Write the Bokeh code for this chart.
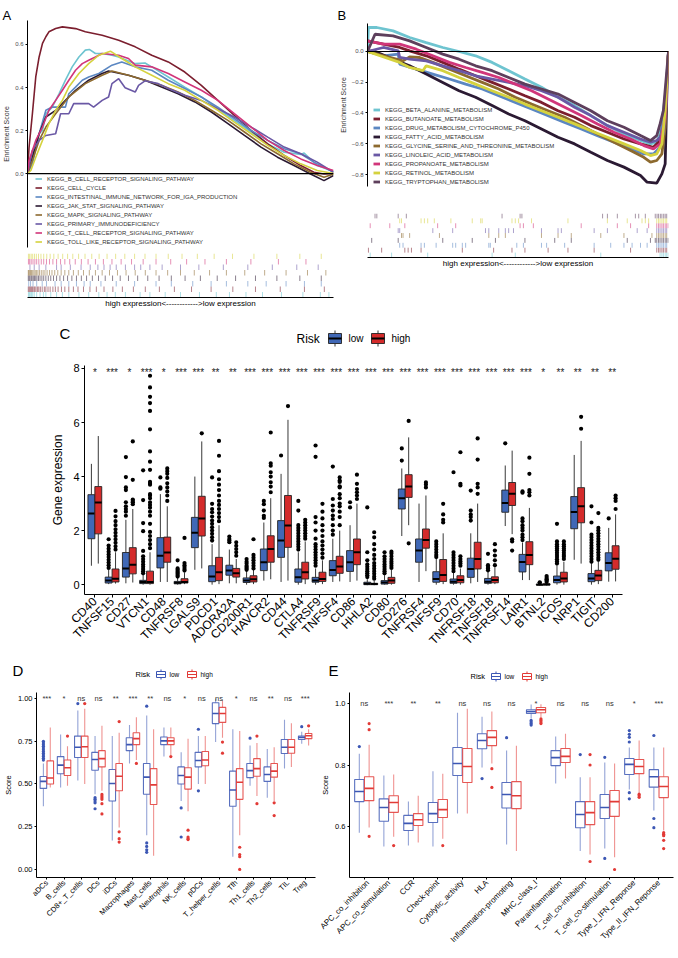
import numpy as np
from bokeh.plotting import figure
from bokeh.models import Range1d, Legend, LegendItem, FixedTicker, Span
from bokeh.layouts import column, row
from bokeh.embed import file_html
from bokeh.resources import INLINE
from bokeh.core.properties import value

FONT = "Liberation Sans"

# ---------------------------------------------------------------- panel A data
# running enrichment score along the ranked gene list (rank scaled to 0-1000)
a_sets = ["KEGG_B_CELL_RECEPTOR_SIGNALING_PATHWAY", "KEGG_CELL_CYCLE",
          "KEGG_INTESTINAL_IMMUNE_NETWORK_FOR_IGA_PRODUCTION", "KEGG_JAK_STAT_SIGNALING_PATHWAY",
          "KEGG_MAPK_SIGNALING_PATHWAY", "KEGG_PRIMARY_IMMUNODEFICIENCY",
          "KEGG_T_CELL_RECEPTOR_SIGNALING_PATHWAY", "KEGG_TOLL_LIKE_RECEPTOR_SIGNALING_PATHWAY"]
a_colors = ["#6EC4D0", "#7B1E2E", "#5B87C2", "#2B1A33", "#8D6A2F", "#6A58A5", "#D1357A", "#D5D23E"]
a_rank = [
    [0, 16, 38, 49, 60, 81, 103, 124, 146, 168, 189, 202, 222, 244, 276, 298, 352, 384, 406, 460, 514, 568, 622, 676, 731, 785, 839, 893, 904, 947, 1000],
    [0, 5, 16, 27, 38, 49, 60, 70, 92, 114, 157, 189, 244, 298, 352, 406, 460, 514, 568, 622, 676, 731, 785, 839, 893, 936, 969, 1000],
    [0, 16, 38, 60, 81, 124, 135, 157, 179, 200, 233, 276, 308, 352, 406, 460, 514, 568, 622, 676, 731, 785, 839, 893, 936, 1000],
    [0, 16, 38, 60, 92, 124, 157, 200, 244, 265, 330, 384, 438, 492, 547, 601, 655, 709, 763, 817, 871, 925, 969, 1000],
    [0, 16, 38, 60, 92, 135, 189, 244, 276, 330, 384, 438, 492, 547, 601, 655, 709, 763, 817, 871, 925, 969, 1000],
    [0, 16, 38, 60, 92, 108, 135, 151, 200, 216, 244, 265, 276, 298, 319, 352, 363, 384, 427, 460, 514, 568, 622, 676, 731, 785, 839, 893, 947, 1000],
    [0, 5, 27, 49, 70, 92, 114, 135, 157, 179, 200, 222, 244, 298, 330, 352, 406, 460, 514, 568, 622, 676, 731, 785, 839, 893, 947, 1000],
    [0, 11, 27, 49, 70, 92, 114, 135, 168, 200, 233, 271, 308, 352, 406, 460, 514, 568, 622, 676, 731, 785, 839, 893, 947, 1000],
]
a_es = [
    [0, 0.092, 0.185, 0.2, 0.278, 0.309, 0.371, 0.434, 0.496, 0.542, 0.574, 0.577, 0.558, 0.558, 0.55, 0.542, 0.511, 0.514, 0.496, 0.449, 0.402, 0.356, 0.301, 0.247, 0.193, 0.138, 0.099, 0.089, 0.095, 0.037, 0.01],
    [0, 0.12, 0.278, 0.449, 0.542, 0.605, 0.636, 0.659, 0.674, 0.682, 0.674, 0.659, 0.643, 0.62, 0.589, 0.55, 0.519, 0.472, 0.41, 0.34, 0.27, 0.2, 0.138, 0.084, 0.037, 0.006, -0.002, 0.0],
    [0, 0.045, 0.185, 0.294, 0.309, 0.309, 0.371, 0.402, 0.434, 0.449, 0.465, 0.504, 0.519, 0.496, 0.48, 0.434, 0.395, 0.356, 0.309, 0.255, 0.2, 0.154, 0.115, 0.092, 0.053, 0.006],
    [0, 0.076, 0.185, 0.263, 0.294, 0.34, 0.387, 0.434, 0.465, 0.477, 0.457, 0.434, 0.402, 0.371, 0.333, 0.286, 0.232, 0.177, 0.123, 0.076, 0.037, -0.002, -0.033, -0.009],
    [0, 0.061, 0.154, 0.216, 0.278, 0.356, 0.418, 0.457, 0.477, 0.457, 0.434, 0.41, 0.379, 0.34, 0.294, 0.247, 0.193, 0.138, 0.092, 0.045, 0.006, -0.017, -0.002],
    [0, 0.107, 0.154, 0.177, 0.185, 0.278, 0.278, 0.325, 0.325, 0.309, 0.34, 0.356, 0.418, 0.441, 0.399, 0.379, 0.41, 0.431, 0.418, 0.395, 0.364, 0.34, 0.301, 0.263, 0.216, 0.169, 0.123, 0.092, 0.053, 0.006],
    [0, 0.061, 0.154, 0.216, 0.294, 0.34, 0.387, 0.434, 0.48, 0.511, 0.527, 0.542, 0.558, 0.55, 0.535, 0.504, 0.496, 0.465, 0.426, 0.387, 0.34, 0.278, 0.216, 0.154, 0.107, 0.068, 0.037, 0.014],
    [0, 0.014, 0.076, 0.154, 0.232, 0.294, 0.34, 0.402, 0.465, 0.511, 0.55, 0.569, 0.535, 0.496, 0.457, 0.418, 0.387, 0.34, 0.294, 0.239, 0.185, 0.131, 0.084, 0.045, 0.014, 0.0],
]
a_hits = [
    [3, 6, 9, 13, 17, 22, 30, 41, 52, 60, 76, 95, 114, 135, 168, 200, 233, 260, 287, 320, 368, 400, 450, 500, 562, 617, 660, 714, 768, 830, 900, 957, 985],
    [2, 5, 8, 11, 14, 17, 21, 24, 28, 33, 37, 42, 48, 55, 60, 67, 74, 83, 91, 100, 111, 122, 135, 150, 165, 183, 204, 225, 250, 279, 310, 346, 385, 431, 480, 536, 600, 671, 745, 826, 905, 970],
    [4, 10, 18, 30, 48, 62, 90, 110, 135, 160, 185, 205, 240, 290, 350, 420, 470, 540, 600, 650, 720, 780, 845, 905, 960],
    [2, 5, 8, 12, 15, 19, 23, 27, 31, 36, 41, 47, 53, 60, 68, 76, 85, 95, 106, 118, 131, 145, 160, 176, 193, 212, 232, 254, 278, 303, 330, 360, 393, 430, 470, 515, 565, 620, 680, 745, 815, 890, 960],
    [2, 4, 7, 10, 13, 17, 21, 25, 29, 34, 39, 45, 51, 57, 64, 72, 80, 89, 99, 110, 122, 135, 150, 166, 183, 202, 222, 244, 268, 294, 322, 352, 385, 420, 458, 500, 545, 595, 650, 710, 775, 845, 915, 975],
    [8, 22, 38, 60, 95, 110, 140, 175, 205, 230, 250, 270, 290, 320, 350, 370, 400, 440, 500, 560, 640, 720, 800, 880, 950],
    [3, 7, 12, 18, 24, 30, 37, 45, 53, 62, 72, 83, 95, 108, 122, 138, 156, 176, 198, 222, 248, 276, 306, 340, 378, 420, 468, 520, 580, 650, 730, 820, 910],
    [3, 7, 12, 17, 23, 29, 36, 44, 53, 63, 74, 86, 100, 115, 131, 148, 167, 188, 210, 234, 260, 288, 318, 350, 384, 420, 460, 505, 555, 610, 670, 740, 815, 890, 960],
]

# ---------------------------------------------------------------- panel B data
b_sets = ["KEGG_BETA_ALANINE_METABOLISM", "KEGG_BUTANOATE_METABOLISM",
          "KEGG_DRUG_METABOLISM_CYTOCHROME_P450", "KEGG_FATTY_ACID_METABOLISM",
          "KEGG_GLYCINE_SERINE_AND_THREONINE_METABOLISM", "KEGG_LINOLEIC_ACID_METABOLISM",
          "KEGG_PROPANOATE_METABOLISM", "KEGG_RETINOL_METABOLISM", "KEGG_TRYPTOPHAN_METABOLISM"]
b_colors = ["#6EC4D0", "#7B1E2E", "#5B87C2", "#2B1A33", "#8D6A2F", "#6A58A5", "#D1357A", "#D5D23E", "#5E3F5C"]
b_rank = [
    [0, 3, 31, 85, 140, 195, 250, 304, 359, 414, 469, 523, 578, 633, 688, 742, 797, 852, 907, 940, 961, 972, 983, 994, 1000],
    [0, 53, 107, 140, 195, 250, 304, 359, 414, 469, 523, 578, 633, 688, 742, 797, 852, 907, 950, 972, 989, 1000],
    [0, 53, 102, 107, 162, 217, 272, 326, 381, 436, 491, 545, 600, 655, 710, 764, 819, 874, 918, 950, 972, 989, 1000],
    [0, 20, 85, 140, 195, 250, 304, 359, 414, 469, 523, 578, 633, 688, 742, 797, 852, 907, 929, 961, 978, 989, 994, 1000],
    [0, 118, 140, 173, 217, 272, 326, 381, 436, 491, 545, 600, 655, 710, 764, 819, 874, 918, 940, 961, 978, 989, 1000],
    [0, 53, 102, 107, 140, 195, 250, 304, 359, 414, 469, 523, 578, 633, 688, 742, 797, 852, 907, 940, 961, 983, 994, 1000],
    [0, 53, 107, 162, 217, 272, 326, 381, 436, 491, 545, 600, 655, 710, 764, 819, 874, 918, 950, 972, 989, 1000],
    [0, 107, 140, 184, 195, 250, 304, 359, 414, 469, 523, 578, 633, 688, 742, 797, 852, 907, 940, 961, 978, 989, 1000],
    [0, 25, 85, 140, 195, 250, 304, 359, 414, 469, 523, 578, 633, 688, 742, 797, 852, 907, 940, 961, 972, 983, 1000],
]
b_es = [
    [0, 0.156, 0.156, 0.134, 0.091, 0.058, 0.026, 0.0, -0.028, -0.071, -0.125, -0.179, -0.233, -0.298, -0.352, -0.417, -0.482, -0.536, -0.579, -0.601, -0.59, -0.536, -0.385, -0.212, 0.0],
    [0.069, 0.048, 0.026, 0.004, -0.028, -0.071, -0.115, -0.158, -0.201, -0.244, -0.288, -0.331, -0.385, -0.428, -0.482, -0.525, -0.569, -0.601, -0.623, -0.579, -0.385, 0.0],
    [0, -0.028, -0.017, -0.082, -0.115, -0.147, -0.179, -0.212, -0.244, -0.288, -0.331, -0.374, -0.417, -0.461, -0.504, -0.547, -0.59, -0.633, -0.666, -0.666, -0.623, -0.32, 0.0],
    [0, 0.004, -0.05, -0.093, -0.147, -0.201, -0.255, -0.298, -0.352, -0.406, -0.45, -0.504, -0.558, -0.601, -0.655, -0.709, -0.752, -0.806, -0.85, -0.856, -0.796, -0.731, -0.32, 0.0],
    [0, -0.061, -0.035, -0.039, -0.071, -0.115, -0.158, -0.201, -0.244, -0.298, -0.342, -0.385, -0.428, -0.482, -0.536, -0.59, -0.644, -0.688, -0.72, -0.709, -0.666, -0.493, 0.0],
    [0, 0.026, 0.004, -0.039, -0.05, -0.061, -0.093, -0.125, -0.158, -0.179, -0.201, -0.223, -0.255, -0.298, -0.363, -0.417, -0.482, -0.525, -0.569, -0.59, -0.579, -0.536, -0.32, 0.0],
    [0.069, 0.048, 0.048, 0.015, -0.028, -0.071, -0.104, -0.136, -0.169, -0.212, -0.255, -0.309, -0.363, -0.417, -0.471, -0.525, -0.569, -0.612, -0.633, -0.601, -0.428, 0.0],
    [0, -0.071, -0.104, -0.125, -0.093, -0.125, -0.169, -0.212, -0.255, -0.298, -0.342, -0.385, -0.428, -0.471, -0.515, -0.558, -0.601, -0.644, -0.677, -0.666, -0.601, -0.385, 0.0],
    [0, 0.112, 0.102, 0.069, 0.026, -0.017, -0.05, -0.093, -0.125, -0.169, -0.212, -0.244, -0.277, -0.331, -0.385, -0.45, -0.493, -0.547, -0.579, -0.547, -0.471, -0.385, 0.0],
]
b_hits = [
    [9, 80, 200, 414, 491, 775, 972, 978, 983, 989, 994, 999],
    [3, 47, 124, 135, 146, 178, 315, 419, 480, 523, 600, 666, 753, 874, 961, 967, 972, 978, 983, 989, 994],
    [107, 118, 178, 189, 228, 283, 293, 315, 326, 403, 408, 496, 518, 578, 595, 655, 753, 808, 852, 879, 907, 929, 961, 967, 972, 978, 983, 989, 994],
    [14, 102, 250, 348, 425, 523, 622, 677, 863, 940, 956, 961, 967, 972, 978, 983, 989, 994, 999],
    [113, 118, 140, 239, 403, 436, 458, 578, 633, 677, 775, 852, 945, 961, 967, 972, 978, 983, 989, 994],
    [102, 107, 217, 283, 392, 403, 436, 458, 469, 485, 578, 633, 644, 753, 797, 896, 929, 961, 967, 972, 978, 983, 989, 994],
    [9, 74, 124, 233, 293, 507, 518, 551, 710, 830, 874, 934, 961, 967, 972, 978, 983, 989, 994, 999],
    [107, 113, 178, 189, 200, 222, 277, 348, 376, 381, 480, 491, 502, 545, 666, 797, 863, 912, 923, 934, 961, 967, 972, 978, 983, 989, 994],
    [25, 31, 102, 129, 447, 507, 513, 781, 797, 830, 890, 901, 923, 956, 962, 967, 973, 978, 984, 989, 994],
]

# ---------------------------------------------------------------- panel C data
c_genes = ["CD40", "TNFSF15", "CD27", "VTCN1", "CD48", "TNFRSF8", "LGALS9", "PDCD1", "ADORA2A",
           "CD200R1", "HAVCR2", "CD44", "CTLA4", "TNFRSF9", "TNFSF4", "CD86", "HHLA2", "CD80",
           "CD276", "TNFRSF4", "TNFSF9", "CD70", "TNFRSF18", "TNFSF18", "TNFRSF14", "LAIR1",
           "BTNL2", "ICOS", "NRP1", "TIGIT", "CD200"]
c_sig = ["*", "***", "*", "***", "*", "***", "***", "**", "**"] + ["***"] * 17 + ["*", "**", "**", "**", "**"]
# (lower whisker, Q1, median, Q3, upper whisker)
c_low = [(0.70, 1.70, 2.63, 3.33, 4.47), (0.02, 0.06, 0.15, 0.28, 0.55), (0.05, 0.28, 0.60, 1.19, 2.40),
         (0.00, 0.04, 0.10, 0.16, 0.35), (0.10, 0.62, 1.07, 1.74, 3.35), (0.00, 0.03, 0.07, 0.12, 0.25),
         (0.55, 1.37, 1.92, 2.49, 4.00), (0.00, 0.11, 0.30, 0.70, 1.50), (0.05, 0.35, 0.52, 0.72, 1.30),
         (0.00, 0.08, 0.15, 0.25, 0.50), (0.15, 0.52, 0.83, 1.32, 2.30), (0.10, 1.01, 1.63, 2.37, 4.10),
         (0.00, 0.09, 0.27, 0.58, 1.20), (0.00, 0.09, 0.15, 0.27, 0.60), (0.10, 0.33, 0.54, 0.89, 1.70),
         (0.10, 0.49, 0.83, 1.26, 2.20), (-0.02, 0.00, 0.03, 0.09, 0.20), (0.00, 0.02, 0.08, 0.15, 0.35),
         (1.80, 2.80, 3.20, 3.54, 4.30), (0.10, 0.83, 1.26, 1.69, 3.00), (0.00, 0.09, 0.21, 0.48, 0.95),
         (0.00, 0.05, 0.11, 0.21, 0.45), (0.05, 0.27, 0.58, 0.98, 1.90), (0.00, 0.05, 0.11, 0.23, 0.48),
         (2.17, 2.68, 3.02, 3.50, 4.41), (0.17, 0.47, 0.84, 1.12, 1.56), (-0.03, -0.01, 0.00, 0.02, 0.05),
         (0.00, 0.07, 0.17, 0.32, 0.70), (0.92, 2.07, 2.69, 3.26, 4.80), (0.00, 0.11, 0.23, 0.41, 0.80),
         (0.11, 0.51, 0.80, 1.18, 2.10)]
c_low_out = [[], [0.62, 0.72, 0.82, 0.92, 1.02, 1.12, 1.22, 1.33, 1.45, 1.68],
             [2.55, 2.70, 2.80, 2.90, 3.05, 3.50, 3.60, 3.98, 4.72],
             [0.42, 0.50, 0.58, 0.66, 0.75, 0.85, 0.95, 1.05, 1.25, 1.98, 2.28, 3.13, 4.23],
             [3.55, 3.60, 3.97], [0.30, 0.35, 0.40, 0.45, 0.50, 0.55, 0.60, 0.90], [],
             [1.63, 1.75, 1.88, 2.00, 2.12, 2.25, 2.37, 2.52, 2.68, 2.80, 2.99, 3.97],
             [1.57, 1.63, 1.69, 1.78], [0.55, 0.60, 0.65, 0.70, 0.78, 0.85, 0.95],
             [2.47, 2.55, 2.74, 2.98, 3.10], [4.78],
             [1.30, 1.40, 1.50, 1.60, 1.70, 1.80, 1.90, 2.00, 2.10, 2.20, 2.74, 3.10],
             [0.70, 0.80, 0.90, 1.00, 1.10, 1.20, 1.30, 1.40, 1.50, 1.70, 2.00, 2.30, 2.50, 4.73, 5.15],
             [1.85, 2.00, 2.20, 2.43, 2.56, 2.74, 2.93, 3.17, 4.37], [2.86, 3.05],
             [0.28, 0.35, 0.42, 0.50, 0.58, 0.66, 0.75, 0.90, 1.20, 2.86],
             [0.42, 0.50, 0.58, 0.66, 0.75, 0.85, 0.95, 1.05, 1.20], [4.59, 5.04], [],
             [1.02, 1.10, 1.20, 1.30, 1.40, 1.50, 1.60], [0.50, 0.60, 0.70, 0.80, 0.90, 1.00, 1.10, 1.20, 4.16],
             [2.37, 2.50, 2.60, 2.74, 3.48], [0.53, 0.60, 0.65, 0.72, 1.14], [5.23],
             [1.65, 1.75, 1.85, 2.00, 2.10, 2.20, 2.35, 2.45, 3.40, 3.45], [0.07, 0.09],
             [0.78, 0.86, 0.94, 1.02, 1.10, 1.18, 1.26, 1.34, 1.42, 1.50, 1.60, 2.25], [],
             [0.85, 0.95, 1.05, 1.15, 1.25, 1.35, 1.45, 1.55, 1.65, 1.75, 1.85, 2.30, 2.90], [2.45]]
c_high = [(0.78, 1.88, 3.04, 3.63, 5.50), (0.04, 0.10, 0.22, 0.58, 1.20), (0.08, 0.40, 0.74, 1.37, 2.80),
          (0.00, 0.04, 0.10, 0.50, 1.20), (0.10, 0.83, 1.19, 1.76, 2.90), (0.02, 0.06, 0.10, 0.22, 0.45),
          (0.60, 1.80, 2.45, 3.27, 5.30), (0.02, 0.15, 0.46, 1.01, 2.20), (0.05, 0.28, 0.42, 0.60, 0.95),
          (0.02, 0.10, 0.20, 0.33, 0.55), (0.20, 0.83, 1.32, 1.81, 3.20), (0.15, 1.38, 2.19, 3.30, 6.10),
          (0.02, 0.21, 0.46, 0.83, 1.60), (0.02, 0.12, 0.21, 0.46, 0.90), (0.12, 0.42, 0.67, 1.05, 2.00),
          (0.15, 0.74, 1.20, 1.69, 3.00), (-0.02, 0.00, 0.02, 0.05, 0.15), (0.00, 0.05, 0.15, 0.27, 0.55),
          (2.20, 3.23, 3.63, 4.07, 5.45), (0.50, 1.35, 1.65, 2.06, 3.30), (0.02, 0.12, 0.36, 0.93, 1.90),
          (0.00, 0.07, 0.17, 0.33, 0.60), (0.10, 0.58, 0.95, 1.57, 3.00), (0.02, 0.07, 0.17, 0.29, 0.65),
          (1.87, 2.93, 3.36, 3.78, 4.96), (0.17, 0.74, 1.10, 1.59, 2.84), (-0.03, -0.01, 0.01, 0.03, 0.06),
          (0.00, 0.10, 0.23, 0.46, 0.85), (0.78, 2.29, 2.90, 3.59, 5.32), (0.02, 0.15, 0.34, 0.53, 0.85),
          (0.12, 0.57, 0.96, 1.44, 2.60)]
c_high_out = [[], [1.30, 1.42, 1.55, 1.68, 1.80, 1.92, 2.05, 2.20, 2.35, 2.53, 2.73],
              [2.98, 3.05, 3.10, 3.15, 3.88, 5.30],
              [1.35, 1.50, 1.65, 1.80, 1.95, 2.25, 2.55, 2.70, 2.85, 2.95, 3.05, 3.20, 3.30, 3.35, 3.70,
               3.75, 3.80, 4.25, 4.55, 4.93, 5.75, 6.43, 6.72, 6.95, 7.30, 7.73],
              [3.10, 3.30, 3.45, 3.60, 3.75, 3.95, 4.10, 4.20, 4.30], [0.52, 0.58, 0.65, 0.72, 0.80, 1.73], [5.60],
              [2.35, 2.50, 2.65, 2.80, 2.95, 3.10, 3.30, 3.50, 3.70, 3.90, 4.20, 4.77, 5.32],
              [1.07, 1.20, 1.32, 1.44, 1.57], [0.60, 0.70, 0.80, 0.90, 1.00, 1.10, 1.68],
              [3.42, 3.63, 3.79, 4.00, 4.16, 4.40, 4.49, 5.63], [6.61],
              [1.70, 1.80, 1.90, 2.00, 2.10, 2.20, 2.30, 2.40],
              [1.00, 1.15, 1.30, 1.45, 1.60, 1.80, 2.00, 2.20, 2.45, 2.70, 2.99],
              [2.20, 2.50, 2.70, 2.90, 3.00, 3.20, 3.35, 3.60, 3.64, 3.80, 3.85, 3.97],
              [3.17, 3.30, 3.42, 3.54, 3.73, 4.07],
              [0.22, 0.30, 0.40, 0.50, 0.60, 0.70, 0.80, 0.95, 1.10, 1.30, 1.50, 1.75, 1.94],
              [0.62, 0.70, 0.78, 0.86, 0.95, 1.05, 1.15, 1.22], [1.53, 6.06], [3.60, 3.71, 3.79],
              [2.30, 2.40, 2.60, 2.99], [0.70, 0.78, 0.86, 0.95, 1.05, 3.67, 3.73, 4.90],
              [3.36, 3.60, 3.73, 4.63, 5.41], [0.72, 0.90, 1.08, 1.26, 1.50], [1.26, 1.60, 1.68],
              [3.30, 3.42, 3.50, 4.10, 4.70], [0.10, 0.15, 0.20, 0.25, 0.32],
              [0.95, 1.03, 1.10, 1.18, 1.26, 1.34, 1.42, 1.50, 1.60], [5.77, 6.21],
              [0.92, 1.00, 1.10, 1.20, 1.30, 1.40, 1.50, 1.60, 1.70, 1.80, 1.90, 2.00, 2.10, 2.65],
              [2.80, 3.10, 3.20, 3.30]]

# ---------------------------------------------------------------- panel D data
d_cells = ["aDCs", "B_cells", "CD8+_T_cells", "DCs", "iDCs", "Macrophages", "Mast_cells", "Neutrophils",
           "NK_cells", "pDCs", "T_helper_cells", "Tfh", "Th1_cells", "Th2_cells", "TIL", "Treg"]
d_sig = ["***", "*", "ns", "ns", "**", "***", "**", "ns", "*", "ns", "ns", "*", "ns", "**", "ns", "***"]
d_low = [(0.37, 0.474, 0.515, 0.544, 0.62), (0.48, 0.56, 0.61, 0.66, 0.79), (0.52, 0.655, 0.715, 0.78, 0.93),
         (0.44, 0.58, 0.643, 0.685, 0.78), (0.17, 0.40, 0.503, 0.585, 0.78), (0.62, 0.695, 0.73, 0.77, 0.845),
         (0.20, 0.44, 0.54, 0.62, 0.90), (0.66, 0.73, 0.752, 0.775, 0.83), (0.40, 0.50, 0.55, 0.60, 0.685),
         (0.50, 0.60, 0.637, 0.685, 0.78), (0.745, 0.853, 0.912, 0.975, 1.0), (0.075, 0.37, 0.465, 0.575, 0.82),
         (0.49, 0.537, 0.578, 0.62, 0.725), (0.42, 0.515, 0.555, 0.60, 0.705), (0.59, 0.678, 0.715, 0.76, 0.875),
         (0.735, 0.76, 0.772, 0.78, 0.805)]
d_low_out = [[0.64, 0.65, 0.66, 0.67, 0.68, 0.69, 0.70, 0.71, 0.72, 0.73, 0.74, 0.75], [], [0.97],
             [0.42, 0.41, 0.40, 0.39, 0.355], [], [], [0.955, 0.155, 0.135, 0.115, 0.10], [], [0.36, 0.19],
             [0.82, 0.46], [], [], [0.768], [], [], [0.835]]
d_high = [(0.48, 0.50, 0.535, 0.635, 0.83), (0.49, 0.55, 0.595, 0.64, 0.72), (0.50, 0.655, 0.718, 0.78, 0.94),
          (0.46, 0.60, 0.648, 0.695, 0.84), (0.245, 0.46, 0.545, 0.62, 0.80), (0.64, 0.73, 0.765, 0.80, 0.89),
          (0.08, 0.38, 0.495, 0.59, 0.82), (0.67, 0.73, 0.752, 0.77, 0.83), (0.34, 0.47, 0.54, 0.595, 0.765),
          (0.50, 0.607, 0.64, 0.69, 0.78), (0.77, 0.86, 0.912, 0.948, 0.99), (0.20, 0.41, 0.51, 0.59, 0.81),
          (0.43, 0.545, 0.59, 0.648, 0.74), (0.40, 0.54, 0.575, 0.62, 0.715), (0.60, 0.68, 0.715, 0.76, 0.855),
          (0.725, 0.765, 0.782, 0.795, 0.82)]
d_high_out = [[], [0.78], [0.97], [0.44, 0.43, 0.42, 0.41, 0.385, 0.325], [0.865, 0.22, 0.18, 0.16], [0.62],
              [], [0.66], [0.23, 0.19, 0.18, 0.175], [], [0.745, 0.68], [0.13, 0.087, 0.075, 0.0],
              [0.78, 0.385], [0.39, 0.315], [], [0.84]]

# ---------------------------------------------------------------- panel E data
e_terms = ["APC_co_inhibition", "APC_co_stimulation", "CCR", "Check-point", "Cytolytic_activity", "HLA",
           "Inflammation-promoting", "MHC_class_I", "Parainflammation", "T_cell_co-inhibition",
           "T_cell_co-stimulation", "Type_I_IFN_Reponse", "Type_II_IFN_Reponse"]
e_sig = ["ns", "***", "**", "**", "ns", "ns", "ns", "*", "ns", "ns", "ns", "*", "***"]
e_low = [(0.58, 0.681, 0.714, 0.753, 0.837), (0.535, 0.617, 0.662, 0.69, 0.766), (0.538, 0.587, 0.61, 0.636, 0.681),
         (0.535, 0.613, 0.642, 0.678, 0.78), (0.642, 0.766, 0.805, 0.857, 0.97), (0.792, 0.853, 0.88, 0.902, 0.957),
         (0.541, 0.66, 0.704, 0.743, 0.847), (0.951, 0.968, 0.974, 0.98, 0.997), (0.74, 0.798, 0.824, 0.847, 0.893),
         (0.52, 0.596, 0.639, 0.681, 0.76), (0.528, 0.626, 0.662, 0.704, 0.808), (0.72, 0.769, 0.802, 0.821, 0.857),
         (0.652, 0.728, 0.762, 0.785, 0.857)]
e_low_out = [[0.86], [], [], [], [], [0.756], [0.889], [0.945, 0.94, 0.935, 0.93], [], [0.834],
             [0.825, 0.496], [0.912, 0.90, 0.89, 0.875, 0.71, 0.69], [0.896, 0.626, 0.596]]
e_high = [(0.597, 0.684, 0.724, 0.762, 0.866), (0.567, 0.646, 0.678, 0.70, 0.769), (0.548, 0.603, 0.622, 0.642, 0.70),
          (0.56, 0.629, 0.655, 0.688, 0.772), (0.642, 0.743, 0.795, 0.854, 0.983), (0.805, 0.863, 0.89, 0.912, 0.974),
          (0.52, 0.658, 0.70, 0.746, 0.863), (0.955, 0.97, 0.98, 0.987, 0.998), (0.756, 0.808, 0.828, 0.854, 0.902),
          (0.509, 0.606, 0.645, 0.681, 0.76), (0.50, 0.633, 0.681, 0.717, 0.805), (0.71, 0.772, 0.795, 0.818, 0.88),
          (0.587, 0.694, 0.73, 0.762, 0.857)]
e_high_out = [[0.915, 0.935, 0.568], [0.538], [], [0.538], [], [0.788, 0.727], [], [0.95, 0.945, 0.94, 0.935],
              [], [0.80, 0.834, 0.486], [0.46], [0.705, 0.70, 0.695], [0.58, 0.575, 0.57, 0.555, 0.528]]


# ---------------------------------------------------------------- helpers
def make_fig(width, height, border, x_range, y_range, **kw):
    left, right, top, bottom = border
    p = figure(width=width, height=height, x_range=x_range, y_range=y_range,
               output_backend="svg", toolbar_location=None,
               min_border_left=left, min_border_right=right,
               min_border_top=top, min_border_bottom=bottom, **kw)
    p.grid.visible = False
    p.outline_line_color = None
    return p


def header(width, height):
    """Strip above a panel for its letter and group key (pixel coordinates, y downwards)."""
    p = make_fig(width, height, (0, 0, 0, 0), Range1d(0, width), Range1d(height, 0),
                 x_axis_location=None, y_axis_location=None)
    if "frame_align" in p.properties():
        p.frame_align = False
    return p


def header_text(p, x, y, text, size, baseline="alphabetic"):
    p.text(x=[x], y=[y], text=[text], text_align="left", text_baseline=baseline,
           text_font=value(FONT), text_font_size=size, text_color="black")


def box_key(p, x0, yc, w, h, stub, fill, line, med, lw, med_w):
    """A small boxplot symbol: whisker stubs, box and median line."""
    xm = x0 + w / 2
    p.segment(x0=[xm, xm], y0=[yc - h / 2 - stub, yc + h / 2], x1=[xm, xm],
              y1=[yc - h / 2, yc + h / 2 + stub], line_color=line, line_width=lw)
    p.quad(left=[x0], right=[x0 + w], top=[yc - h / 2], bottom=[yc + h / 2], fill_color=fill,
           line_color=line, line_width=lw)
    p.segment(x0=[x0], y0=[yc], x1=[x0 + w], y1=[yc], line_color=med, line_width=med_w)


def style_axis(ax, size, color="#333333", tick_out=3, standoff=2):
    ax.major_label_text_font = FONT
    ax.major_label_text_font_size = size
    ax.major_label_text_color = color
    ax.major_tick_out = tick_out
    ax.major_tick_in = 0
    ax.major_label_standoff = standoff
    ax.minor_tick_line_color = None
    ax.axis_line_color = "black"
    ax.major_tick_line_color = "black"
    ax.axis_label_text_font = FONT
    ax.axis_label_text_font_style = "normal"
    ax.axis_label_text_color = "black"


def es_panel(width, height, border, y_lim, ticks, tick_text, names, colors, ranks, scores, lw, legend_at):
    p = make_fig(width, height, border, Range1d(0, 1000), Range1d(*y_lim), x_axis_location=None)
    ax = p.yaxis[0]
    style_axis(ax, "6px", "#4D4D4D", tick_out=2, standoff=2)
    ax.ticker = FixedTicker(ticks=ticks)
    ax.major_label_overrides = dict(zip(ticks, tick_text))
    ax.axis_label = "Enrichment Score"
    ax.axis_label_text_font_size = "7px"
    ax.axis_label_text_color = "#333333"
    ax.axis_label_standoff = 2
    p.add_layout(Span(location=0, dimension="width", line_color="black", line_width=1.2))
    items = []
    for name, col, r, s in zip(names, colors, ranks, scores):
        rr = p.line(r, s, line_color=col, line_width=lw)
        items.append(LegendItem(label=name, renderers=[rr]))
    p.add_layout(Legend(items=items, location=legend_at, glyph_width=7, glyph_height=9, label_height=9,
                        label_standoff=5, spacing=0, padding=0, margin=0, border_line_color=None,
                        background_fill_alpha=0, label_text_font=FONT, label_text_font_size="6px",
                        label_text_color="#333333"))
    return p


def rug_panel(width, height, border, hits, colors, xlabel):
    p = make_fig(width, height, border, Range1d(0, 1000), Range1d(0, len(hits)), y_axis_location=None)
    for i, (h, col) in enumerate(zip(hits, colors)):
        p.segment(x0=h, y0=i, x1=h, y1=i + 1, line_color=col, line_width=1, line_alpha=0.55)
    ax = p.xaxis[0]
    style_axis(ax, "0px", tick_out=0, standoff=0)
    ax.ticker = FixedTicker(ticks=[])
    ax.major_tick_line_color = None
    ax.axis_label = xlabel
    ax.axis_label_standoff = 1
    ax.axis_label_text_font_size = "8px"
    return p


def draw_boxes(p, stats, outs, shift, half, fill, line, line_alpha, wcolor, walpha, med_color,
               med_width, dot_color, dot_size, lw):
    xs = np.arange(len(stats)) + shift
    wlo, q1, med, q3, whi = (np.array(v, dtype=float) for v in zip(*stats))
    p.segment(x0=xs, y0=wlo, x1=xs, y1=q1, line_color=wcolor, line_alpha=walpha, line_width=lw)
    p.segment(x0=xs, y0=q3, x1=xs, y1=whi, line_color=wcolor, line_alpha=walpha, line_width=lw)
    p.quad(left=xs - half, right=xs + half, bottom=q1, top=q3, fill_color=fill,
           line_color=line, line_alpha=line_alpha, line_width=lw)
    p.segment(x0=xs - half, y0=med, x1=xs + half, y1=med, line_color=med_color, line_width=med_width)
    ox = np.repeat(xs, [len(o) for o in outs])
    oy = [v for o in outs for v in o]
    p.scatter(ox, oy, size=dot_size, fill_color=dot_color, line_color=None)


def category_axes(p, names, yticks, ytext, ylabel, xsize, ysize, title_size, standoff):
    xa = p.xaxis[0]
    style_axis(xa, xsize, "black", tick_out=3, standoff=2)
    xa.ticker = FixedTicker(ticks=list(range(len(names))))
    xa.major_label_overrides = {i: n for i, n in enumerate(names)}
    xa.major_label_orientation = np.pi / 4
    ya = p.yaxis[0]
    style_axis(ya, ysize, "black", tick_out=3, standoff=2)
    ya.ticker = FixedTicker(ticks=yticks)
    ya.major_label_overrides = dict(zip(yticks, ytext))
    ya.axis_label = ylabel
    ya.axis_label_text_font_size = title_size
    ya.axis_label_standoff = standoff


# ---------------------------------------------------------------- panels A / B
ha = header(336, 20)
header_text(ha, 2, 15, "A", "13px")
pa = es_panel(336, 230, (25, 3, 0, 3), (-0.344, 0.7116), [0.0, 0.2, 0.4, 0.6],
              ["0.0", "0.2", "0.4", "0.6"], a_sets, a_colors, a_rank, a_es, 1.6, (8, 1))
pa_rug = rug_panel(336, 60, (25, 3, 3, 11), a_hits, a_colors,
                   "high expression<------------>low expression")

hb = header(342, 20)
header_text(hb, 1, 15, "B", "13px")
pb = es_panel(342, 170, (28, 10, 3, 4), (-0.878, 0.182), [-0.8, -0.6, -0.4, -0.2, 0.0],
              ["\u22120.8", "\u22120.6", "\u22120.4", "\u22120.2", "0.0"], b_sets, b_colors,
              b_rank, b_es, 2.8, (6, 0))
pb_rug = rug_panel(342, 120, (28, 10, 23, 53), b_hits, b_colors,
                   "high expression<------------>low expression")

# ---------------------------------------------------------------- panel C
c_blue, c_red = "#4068B6", "#D42B2B"
hc = header(678, 50)
header_text(hc, 59, 23, "C", "15px")
header_text(hc, 296, 28, "Risk", "12px", "middle")
box_key(hc, 328, 28, 13, 10, 3, c_blue, "#222222", "black", 0.9, 2.0)
header_text(hc, 348, 28, "low", "10px", "middle")
box_key(hc, 371, 28, 13, 10, 3, c_red, "#222222", "black", 0.9, 2.0)
header_text(hc, 391, 28, "high", "10px", "middle")

nc = len(c_genes)
pc = make_fig(678, 295, (84, 56, 5, 57), Range1d(-0.6, nc - 0.4), Range1d(-0.364, 8.11))
category_axes(pc, c_genes, [0, 2, 4, 6, 8], ["0", "2", "4", "6", "8"], "Gene expression",
              "12px", "11px", "12px", 5)
draw_boxes(pc, c_low, c_low_out, -0.2, 0.2, c_blue, "#222222", 1.0, "#222222", 1.0,
           "black", 2.0, "black", 4.2, 0.9)
draw_boxes(pc, c_high, c_high_out, 0.2, 0.2, c_red, "#222222", 1.0, "#222222", 1.0,
           "black", 2.0, "black", 4.2, 0.9)
pc.text(x=list(range(nc)), y=[7.85] * nc, text=c_sig, text_align="center", text_baseline="middle",
        text_font=value(FONT), text_font_size="10px", text_color="#222222")

# ---------------------------------------------------------------- panels D / E
blue, red = "#3C57B4", "#E23A36"


def score_panel(width, border, names, sig, low, low_out, high, high_out, y_lim, yticks, ytext, xsize):
    n = len(names)
    p = make_fig(width, 271, border, Range1d(-0.6, n - 0.4), Range1d(*y_lim))
    category_axes(p, names, yticks, ytext, "Score", xsize, "7.5px", "7.5px", 2)
    p.xaxis[0].major_tick_out = 2
    p.yaxis[0].major_tick_out = 2
    draw_boxes(p, low, low_out, -0.2, 0.19, "white", blue, 0.85, blue, 0.55, blue, 1.6, blue, 3.2, 1.1)
    draw_boxes(p, high, high_out, 0.2, 0.19, "white", red, 0.85, red, 0.55, red, 1.6, red, 3.2, 1.1)
    p.text(x=list(range(n)), y=[1.0] * n, text=sig, text_align="center", text_baseline="middle",
           text_font=value(FONT), text_font_size="7.5px", text_color="#333333")
    return p


def score_header(width, letter, letter_x, risk_x, yc):
    h = header(width, 32)
    header_text(h, letter_x, 15, letter, "15px")
    header_text(h, risk_x, yc, "Risk", "7.5px", "middle")
    box_key(h, risk_x + 21, yc, 9, 6, 2, "white", blue, blue, 1.0, 1.2)
    header_text(h, risk_x + 34, yc, "low", "6.5px", "middle")
    box_key(h, risk_x + 52, yc, 9, 6, 2, "white", red, red, 1.0, 1.2)
    header_text(h, risk_x + 65, yc, "high", "6.5px", "middle")
    return h


hd = score_header(318, "D", 12, 135, 19)
pd_ = score_panel(318, (28, 3, 5, 81), d_cells, d_sig, d_low, d_low_out, d_high, d_high_out,
                  (-0.047, 1.035), [0.0, 0.25, 0.5, 0.75, 1.0], ["0.00", "0.25", "0.50", "0.75", "1.00"],
                  "7.5px")

he = score_header(360, "E", 10, 152, 21)
pe = score_panel(360, (29, 5, 5, 81), e_terms, e_sig, e_low, e_low_out, e_high, e_high_out,
                 (0.434, 1.036), [0.6, 0.8, 1.0], ["0.6", "0.8", "1.0"], "8px")

layout = column(row(column(ha, pa, pa_rug), column(hb, pb, pb_rug)),
                hc, pc,
                row(column(hd, pd_), column(he, pe)))
open("out.html", "w").write(file_html(layout, INLINE))
